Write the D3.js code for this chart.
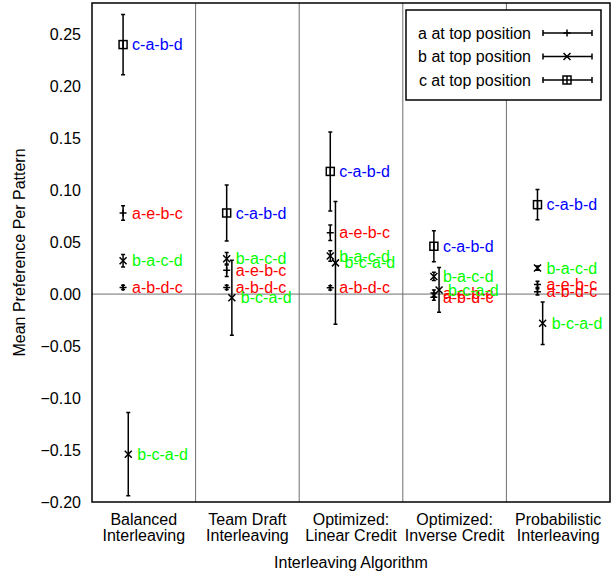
<!DOCTYPE html>
<html>
<head>
<meta charset="utf-8">
<script src="https://cdn.jsdelivr.net/npm/d3@7"></script>
<style>
  body { margin: 0; background: #fff; }
  text { font-family: "Liberation Sans", Arial, sans-serif; }
</style>
</head>
<body>
<div id="chart"></div>
<script>
// Interleaving algorithms (x categories), two label lines each
const algorithms = [
    ["Balanced", "Interleaving"],
    ["Team Draft", "Interleaving"],
    ["Optimized:", "Linear Credit"],
    ["Optimized:", "Inverse Credit"],
    ["Probabilistic", "Interleaving"]
];

// patterns and which series (top position) they belong to
const patterns = ["a-e-b-c", "a-b-d-c", "b-a-c-d", "b-c-a-d", "c-a-b-d"];
const patternGroup = ["a", "a", "b", "b", "c"];

// mean preference per pattern, one value per algorithm
const meanAEBC = [0.078, 0.023, 0.059, 0.001, 0.0093];
const meanABDC = [0.0064, 0.0064, 0.006, -0.003, 0.0022];
const meanBACD = [0.032, 0.034, 0.0367, 0.017, 0.025];
const meanBCAD = [-0.154, -0.0035, 0.030, 0.004, -0.028];
const meanCABD = [0.240, 0.078, 0.118, 0.046, 0.086];

// error (half-width of the bar)
const errAEBC = [0.007, 0.006, 0.0075, 0.003, 0.003];
const errABDC = [0.002, 0.002, 0.002, 0.003, 0.003];
const errBACD = [0.006, 0.006, 0.005, 0.004, 0.002];
const errBCAD = [0.040, 0.036, 0.059, 0.0215, 0.0205];
const errCABD = [0.029, 0.027, 0.038, 0.015, 0.0145];

const legendLabels = ["a at top position", "b at top position", "c at top position"];
const yTicks = [-0.20, -0.15, -0.10, -0.05, 0.00, 0.05, 0.10, 0.15, 0.20, 0.25];

const means = [meanAEBC, meanABDC, meanBACD, meanBCAD, meanCABD];
const errs = [errAEBC, errABDC, errBACD, errBCAD, errCABD];

const points = [];
patterns.forEach((p, pi) => {
    algorithms.forEach((a, ai) => {
        points.push({
            pattern: p,
            group: patternGroup[pi],
            alg: ai,
            mean: means[pi][ai],
            err: errs[pi][ai]
        });
    });
});

const W = 611, H = 573;
const FS = "16px";
const svg = d3.select("#chart").append("svg")
    .attr("width", W)
    .attr("height", H);

const x = d3.scaleLinear().domain([0, 5]).range([92, 610]);
const y = d3.scaleLinear().domain([-0.2, 0.28]).range([502, 3]);

const labelColor = { a: "#ff0000", b: "#00ff00", c: "#0000ff" };
// second b pattern is drawn slightly to the right
const xPos = d => x(d.alg + (d.pattern === "b-c-a-d" ? 0.35 : 0.3));

// column separators
svg.append("g")
    .selectAll("line")
    .data(d3.range(1, algorithms.length))
    .enter()
    .append("line")
    .attr("x1", d => x(d)).attr("x2", d => x(d))
    .attr("y1", y(0.28)).attr("y2", y(-0.2))
    .attr("stroke", "#6e6e6e")
    .attr("stroke-width", 1);

// zero line
svg.append("line")
    .attr("x1", x(0)).attr("x2", x(5))
    .attr("y1", y(0)).attr("y2", y(0))
    .attr("stroke", "#6e6e6e")
    .attr("stroke-width", 1);

// y axis tick labels
svg.append("g")
    .attr("transform", `translate(${x(0) - 8},0)`)
    .call(d3.axisLeft(y).tickValues(yTicks).tickFormat(d3.format(".2f")).tickSize(0))
    .call(g => g.select(".domain").remove())
    .selectAll("text")
    .style("font-size", FS)
    .style("font-family", "Liberation Sans, Arial, sans-serif")
    .attr("fill", "#000");

// category labels
const cat = svg.append("g")
    .selectAll("text")
    .data(algorithms)
    .enter()
    .append("text")
    .attr("x", (d, i) => x(i + 0.5))
    .attr("y", 525)
    .attr("text-anchor", "middle")
    .style("font-size", FS);
cat.append("tspan").attr("x", (d, i) => x(i + 0.5)).text(d => d[0]);
cat.append("tspan").attr("x", (d, i) => x(i + 0.5)).attr("dy", 16).text(d => d[1]);

// axis titles
svg.append("text")
    .attr("x", x(2.5))
    .attr("y", 568)
    .attr("text-anchor", "middle")
    .style("font-size", FS)
    .text("Interleaving Algorithm");

svg.append("text")
    .attr("transform", `translate(25,${y(0.04)}) rotate(-90)`)
    .attr("text-anchor", "middle")
    .style("font-size", FS)
    .text("Mean Preference Per Pattern");

// marker drawing
function drawMarker(g, type) {
    if (type === "a") {
        g.append("path").attr("d", "M-3.5,0H3.5M0,-3.5V3.5");
    } else if (type === "b") {
        g.append("path").attr("d", "M-3.5,-3.5L3.5,3.5M-3.5,3.5L3.5,-3.5");
    } else {
        g.append("rect").attr("x", -4).attr("y", -4).attr("width", 8).attr("height", 8)
            .attr("fill", "none");
        g.append("path").attr("d", "M0,-4V4");
    }
    g.selectAll("path, rect")
        .attr("stroke", "#000")
        .attr("stroke-width", 1.5)
        .attr("fill", "none");
}

const node = svg.append("g")
    .selectAll("g")
    .data(points)
    .enter()
    .append("g");

// error bars
node.append("path")
    .attr("d", d => {
        const cx = xPos(d), t = y(d.mean + d.err), b = y(d.mean - d.err);
        return `M${cx},${t}V${b}M${cx - 2},${t}H${cx + 2}M${cx - 2},${b}H${cx + 2}`;
    })
    .attr("stroke", "#000")
    .attr("stroke-width", 1.5)
    .attr("fill", "none");

node.append("g")
    .attr("transform", d => `translate(${xPos(d)},${y(d.mean)})`)
    .each(function (d) { drawMarker(d3.select(this), d.group); });

node.append("text")
    .attr("x", d => xPos(d) + 9)
    .attr("y", d => y(d.mean))
    .attr("dy", "0.35em")
    .attr("fill", d => labelColor[d.group])
    .style("font-size", FS)
    .text(d => d.pattern);

// legend
const legend = svg.append("g");
legend.append("rect")
    .attr("x", 406).attr("y", 10)
    .attr("width", 195).attr("height", 90)
    .attr("fill", "#fff")
    .attr("stroke", "#000")
    .attr("stroke-width", 1.5);

const item = legend.selectAll("g")
    .data(legendLabels)
    .enter()
    .append("g")
    .attr("transform", (d, i) => `translate(0,${33 + i * 23.5})`);

item.append("text")
    .attr("x", 531)
    .attr("dy", "0.35em")
    .attr("text-anchor", "end")
    .style("font-size", FS)
    .text(d => d);

item.append("path")
    .attr("d", "M543,0H592M543,-3V3M592,-3V3")
    .attr("stroke", "#000")
    .attr("stroke-width", 1.5);

item.append("g")
    .attr("transform", "translate(567,0)")
    .each(function (d, i) { drawMarker(d3.select(this), ["a", "b", "c"][i]); });

// frame
svg.append("rect")
    .attr("x", x(0)).attr("y", y(0.28))
    .attr("width", x(5) - x(0)).attr("height", y(-0.2) - y(0.28))
    .attr("fill", "none")
    .attr("stroke", "#000")
    .attr("stroke-width", 1.5);
</script>
</body>
</html>
